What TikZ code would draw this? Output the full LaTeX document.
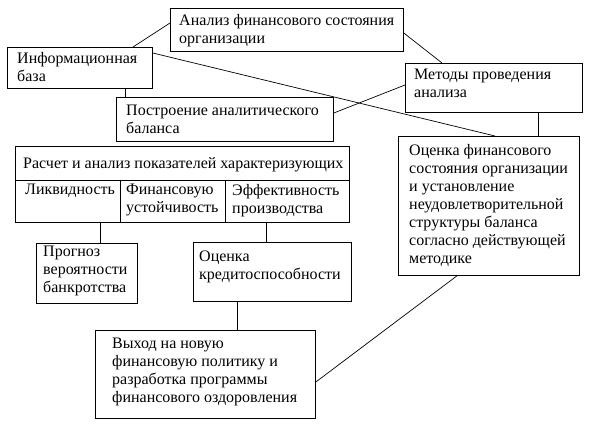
\documentclass[tikz,border=0pt]{standalone}
\usepackage{fontspec}
\setmainfont{Liberation Serif}
\begin{document}
\begin{tikzpicture}[x=1pt,y=-1pt,
  box/.style={draw, line width=0.8pt, inner sep=0pt, anchor=north west},
  txt/.style={inner sep=0pt, anchor=north west, align=left, font=\fontsize{16}{18}\selectfont},
  link/.style={line width=0.7pt}]
\useasboundingbox[fill=white] (0,0) rectangle (589,433);
% boxes
\node[box, minimum width=233pt, minimum height=43pt] (anal) at (170,8) {};
\node[box, minimum width=145pt, minimum height=41pt] (info) at (7,47) {};
\node[box, minimum width=217pt, minimum height=44pt] (postr) at (116,97) {};
\node[box, minimum width=177pt, minimum height=49pt] (metod) at (405,63) {};
\node[box, minimum width=181pt, minimum height=139pt] (ocen) at (398,136) {};
\node[box, minimum width=334pt, minimum height=34pt] (rasch) at (15,146) {};
\node[box, minimum width=105pt, minimum height=42pt] (likv) at (15,180) {};
\node[box, minimum width=105pt, minimum height=42pt] (fin) at (120,180) {};
\node[box, minimum width=124pt, minimum height=42pt] (eff) at (225,180) {};
\node[box, minimum width=101pt, minimum height=60pt] (progn) at (36,243) {};
\node[box, minimum width=158pt, minimum height=59pt] (kred) at (193,242) {};
\node[box, minimum width=220pt, minimum height=88pt] (vyh) at (95,330) {};
% texts
\node[txt] (tanal) at (179,14) {Анализ финансового состояния\\организации};
\node[txt] (tinfo) at (17,52) {Информационная\\база};
\node[txt] (tpostr) at (126,105) {Построение аналитического\\баланса};
\node[txt] (tmetod) at (414,69) {Методы проведения\\анализа};
\node[txt] (tocen) at (409,144) {Оценка финансового\\состояния организации\\и установление\\неудовлетворительной\\структуры баланса\\согласно действующей\\методике};
\node[txt] (trasch) at (23,157) {Расчет и анализ показателей характеризующих};
\node[txt] (tlikv) at (25,184) {Ликвидность};
\node[txt] (tfin) at (126,184) {Финансовую\\устойчивость};
\node[txt] (teff) at (232,184) {Эффективность\\производства};
\node[txt] (tprogn) at (43,246) {Прогноз\\вероятности\\банкротства};
\node[txt] (tkred) at (199,251) {Оценка\\кредитоспособности};
\node[txt] (tvyh) at (112,338) {Выход на новую\\финансовую политику и\\разработка программы\\финансового оздоровления};
% connectors
\draw[link] ([xshift=126pt]info.north west) -- ([yshift=-15pt]anal.north west);
\draw[link] ([yshift=-6pt]info.north east) -- ([xshift=97pt]ocen.north west);
\draw[link] ([xshift=118pt]info.south west) -- ([xshift=9pt]postr.north west);
\draw[link] ([yshift=-25pt]anal.north east) -- ([xshift=37pt]metod.north west);
\draw[link] ([yshift=-16pt]postr.north east) -- ([yshift=-22pt]metod.north west);
\draw[link] ([xshift=133pt]metod.south west) -- ([xshift=140pt]ocen.north west);
\draw[link] ([xshift=59pt]ocen.south west) -- ([yshift=-52pt]vyh.north east);
\draw[link] ([xshift=85pt]likv.south west) -- ([xshift=64pt]progn.north west);
\draw[link] ([xshift=41pt]eff.south west) -- ([xshift=73pt]kred.north west);
\draw[link] ([xshift=44pt]kred.south west) -- ([xshift=142pt]vyh.north west);
\end{tikzpicture}
\end{document}
